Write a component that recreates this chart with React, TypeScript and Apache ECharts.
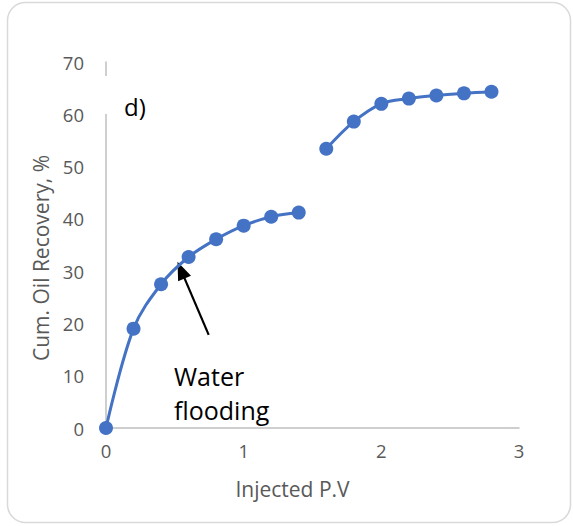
import React, { useEffect, useRef } from "react";
import * as echarts from "echarts";

const pv1 = [0, 0.2, 0.4, 0.6, 0.8, 1.0, 1.2, 1.4];
const rec1 = [0, 19.0, 27.5, 32.7, 36.1, 38.7, 40.4, 41.2];
const pv2 = [1.6, 1.8, 2.0, 2.2, 2.4, 2.6, 2.8];
const rec2 = [53.4, 58.6, 62.0, 63.0, 63.6, 64.0, 64.3];
const arrowFrom = [0.746, 17.8];
const arrowTo = [0.545, 30.2];
const xTitle = "Injected P.V";
const yTitle = "Cum. Oil Recovery, %";
const panelLabel = "d)";
const annotation = "Water\nflooding";

const BLUE = "#4472C4";
const FONT = "'Open Sans', 'Liberation Sans', sans-serif";

export default function App() {
  const ref = useRef<HTMLDivElement>(null);
  useEffect(() => {
    const chart = echarts.init(ref.current!, null, { renderer: "svg" });
    const lineStyle = { color: BLUE, width: 3 };
    const mk = (xs: number[], ys: number[]) => xs.map((x, i) => [x, ys[i]]);
    chart.setOption({
      animation: false,
      backgroundColor: "#ffffff",
      grid: { left: 106, right: 54, top: 62, bottom: 98 },
      xAxis: {
        type: "value",
        min: 0,
        max: 3,
        interval: 1,
        name: xTitle,
        nameLocation: "middle",
        nameGap: 50,
        nameTextStyle: { color: "#595959", fontSize: 21, fontFamily: FONT, padding: [0, 40, 0, 0] },
        axisLine: { show: true, lineStyle: { color: "#bfbfbf", width: 1.5 } },
        axisTick: { show: false },
        splitLine: { show: false },
        axisLabel: { color: "#595959", fontSize: 18.5, fontFamily: FONT, margin: 13 },
      },
      yAxis: {
        type: "value",
        min: 0,
        max: 70,
        interval: 10,
        name: yTitle,
        nameLocation: "middle",
        nameRotate: 90,
        nameGap: 52,
        nameTextStyle: { color: "#595959", fontSize: 21, fontFamily: FONT, padding: [0, 26, 0, 0] },
        axisLine: { show: true, lineStyle: { color: "#bfbfbf", width: 1.5 } },
        axisTick: { show: false },
        splitLine: { show: false },
        axisLabel: { color: "#595959", fontSize: 18.5, fontFamily: FONT, margin: 22 },
      },
      series: [
        {
          type: "line",
          data: mk(pv1, rec1),
          smooth: 0.35,
          symbol: "circle",
          symbolSize: 14,
          itemStyle: { color: BLUE },
          lineStyle,
          z: 5,
          markLine: {
            silent: true,
            symbol: ["none", "triangle"],
            symbolSize: [14, 18],
            lineStyle: { color: "#000000", width: 2.2, type: "solid" },
            label: { show: false },
            data: [[{ coord: arrowFrom }, { coord: arrowTo }]],
          },
        },
        {
          type: "line",
          data: mk(pv2, rec2),
          smooth: 0.35,
          symbol: "circle",
          symbolSize: 14,
          itemStyle: { color: BLUE },
          lineStyle,
          z: 5,
        },
      ],
      graphic: [
        {
          type: "rect",
          shape: { x: 7.5, y: 2.5, width: 563, height: 520, r: 18 },
          style: { fill: "none", stroke: "#d9d9d9", lineWidth: 1.5 },
          silent: true,
          z: 0,
        },
        {
          type: "rect",
          shape: { x: 100, y: 76, width: 50, height: 38 },
          style: { fill: "#ffffff" },
          silent: true,
          z: 10,
        },
        {
          type: "text",
          x: 124,
          y: 94,
          style: { text: panelLabel, fill: "#000000", fontSize: 24, fontFamily: FONT },
          z: 11,
        },
        {
          type: "text",
          x: 174,
          y: 359,
          style: { text: annotation, fill: "#000000", fontSize: 25, fontFamily: FONT, lineHeight: 34 },
          z: 11,
        },
      ],
    });
    return () => chart.dispose();
  }, []);
  return (
    <div
      ref={ref}
      style={{ position: "fixed", left: 0, top: 0, width: 573, height: 526 }}
    />
  );
}
